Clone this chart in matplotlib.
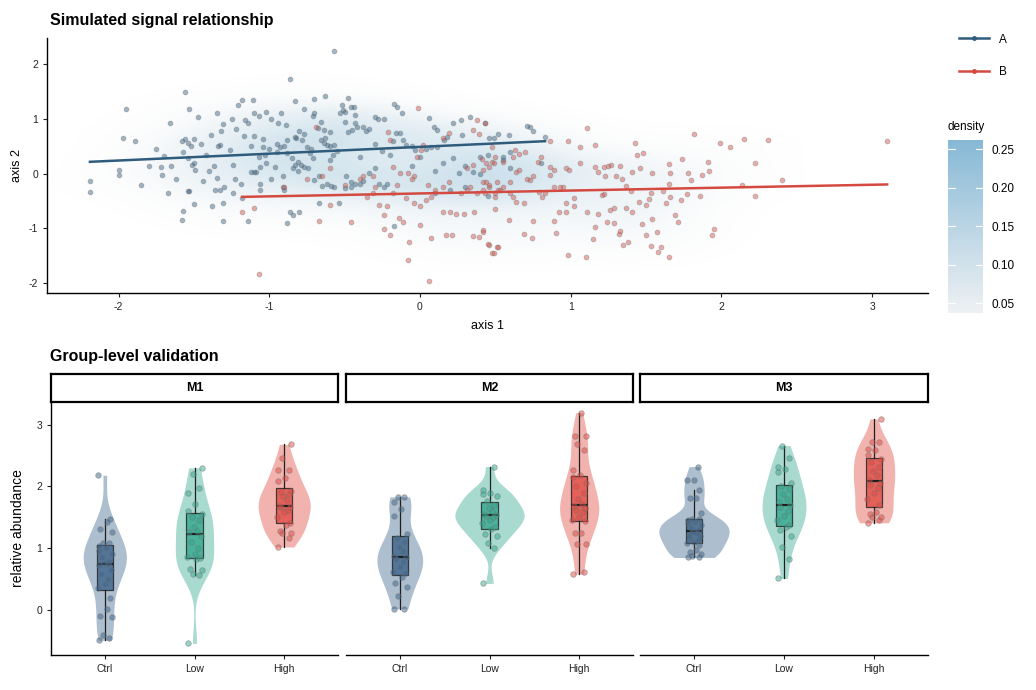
import numpy as np
import matplotlib
matplotlib.use("Agg")
import matplotlib.pyplot as plt
from matplotlib.colors import LinearSegmentedColormap, Normalize
from matplotlib.lines import Line2D
from matplotlib.cm import ScalarMappable

plt.rcParams["font.family"] = ["Liberation Sans", "DejaVu Sans"]
plt.rcParams["axes.unicode_minus"] = False

# ---------------- data: top scatter ----------------
a_x = [-2.19, -2.19, -1.95, -2.0, -2.0, -1.97, -1.89, -1.85, -1.72, -1.71, -1.70, -1.66, -1.65, -1.67,
       -1.56, -1.53, -1.47, -1.58, -1.56, -1.54, -1.57, -1.52, -1.50, -1.54, -1.51, -1.49, -1.50,
       -1.54, -1.53, -1.57, -1.58, -1.50, -1.44, -1.42, -1.39, -1.38, -1.35, -1.37, -1.35, -1.36,
       -1.31, -1.31, -1.33, -1.30, -1.34, -1.33, -1.31, -1.32, -1.25, -1.22, -1.21, -1.18, -1.11,
       -1.26, -1.24, -1.23, -1.24, -1.19, -1.16, -1.17, -1.14, -1.18, -1.14, -1.12, -1.10, -1.09,
       -1.07, -1.06, -1.10, -1.07, -1.12, -1.10, -1.06, -1.06, -1.02, -0.99, -1.04, -1.04, -1.03,
       -1.02, -0.99, -0.96, -0.95, -0.93, -0.94, -0.92, -0.89, -0.88, -0.91, -0.91, -0.90, -0.88,
       -0.86, -0.84, -0.80, -0.86, -0.83, -0.77, -0.85, -0.83, -0.81, -0.84, -0.81, -0.79, -0.77,
       -0.83, -0.82, -0.80, -0.77, -0.78, -0.75, -0.73, -0.71, -0.74, -0.70, -0.70, -0.70, -0.71,
       -0.63, -0.57, -0.67, -0.54, -0.68, -0.66, -0.64, -0.60, -0.64, -0.62, -0.60, -0.57, -0.66,
       -0.63, -0.67, -0.65, -0.62, -0.59, -0.57, -0.53, -0.51, -0.52, -0.50, -0.48, -0.46, -0.44,
       -0.43, -0.50, -0.48, -0.45, -0.43, -0.42, -0.38, -0.36, -0.34, -0.49, -0.46, -0.50, -0.46,
       -0.43, -0.40, -0.38, -0.34, -0.30, -0.27, -0.24, -0.22, -0.30, -0.28, -0.24, -0.17, -0.15,
       -0.12, -0.17, -0.18, -0.16, -0.13, -0.11, -0.09, -0.05, -0.03, 0.04, 0.07, 0.11, 0.16, 0.18,
       0.06, 0.09, 0.11, 0.22, 0.27, 0.28, 0.33, 0.43, 0.46, 0.49, 0.52, 0.59, 0.71, 0.73, 0.75,
       0.83, 0.22, 0.26, 0.35, 0.40, 0.45, 0.55, 0.60, 0.15, 0.00, -0.05, 0.30, 0.10, -0.58,
       -0.72, -0.88, -0.95, -0.40, -0.25, -0.60, -0.30, -0.20, -0.55, -0.90, -1.00,
       0.10, 0.40, 0.60, 0.80, 0.30, 0.55, 0.20, 0.45, -1.80, -1.75, -1.62, -1.45, -1.40]
a_y = [-0.13, -0.33, 1.18, 0.07, -0.03, 0.66, 0.59, -0.21, 0.13, -0.03, 0.32, 0.93, 0.15, -0.36,
       1.50, 1.18, 1.03, 0.60, 0.64, 0.56, 0.40, 0.50, 0.63, 0.28, 0.16, 0.07, 0.19,
       -0.31, -0.31, -0.68, -0.85, -0.55, -0.13, 0.34, 0.71, -0.60, 1.12, 0.14, -0.07, -0.30,
       -0.53, -0.86, -0.30, -0.24, 0.50, 0.53, 0.91, 0.79, 1.01, 0.82, 1.26, 1.35, 1.35,
       0.43, -0.36, -0.10, 0.16, -0.18, 0.98, 0.69, 0.92, -0.45, -0.87, 0.04, 0.03, 0.04,
       0.31, 0.13, 1.12, 1.06, 0.50, 0.69, -0.18, -0.30, 1.13, 1.01, 0.63, 0.48, 0.34,
       0.19, -0.10, 0.13, 0.40, 0.48, 0.92, 1.11, 0.89, 0.62, -0.05, -0.24, -0.30, -0.91,
       -0.70, -0.76, -0.70, 1.73, 1.34, 1.18, 0.28, 0.16, 0.22, 0.10, 0.05, 0.16, 0.13,
       0.68, 0.66, 0.79, 0.72, 0.62, 0.49, 0.38, 0.29, 0.10, -0.12, 1.37, 1.12, 1.06,
       1.42, 2.25, -0.54, -0.54, 0.83, 0.95, 0.80, 0.77, 0.56, 0.53, 0.50, 0.53, 0.62,
       0.65, -0.05, -0.22, -0.19, -0.22, -0.24, 1.11, 1.17, 1.26, 1.13, 1.38, 1.23, 1.22,
       1.08, 0.94, 0.77, 0.80, 0.93, 0.86, 0.86, 0.79, 0.82, -0.05, -0.15, -0.27, -0.24,
       -0.18, -0.19, -0.14, 0.01, 0.10, -0.18, -0.24, -0.19, 1.03, 1.00, 1.00, 1.28, 1.22,
       1.12, -0.95, 0.59, 0.74, 0.74, 0.62, 0.53, 0.50, 0.44, 0.46, 0.49, 0.49, 0.62, 0.68,
       1.02, 0.86, 0.80, 0.92, 0.98, 0.70, 1.03, 0.92, 0.66, 0.66, 0.73, 0.71, 0.87, 0.86, 0.79,
       0.68, 0.29, 0.02, 0.04, 0.30, 0.35, 0.25, 0.40, 0.20, 0.30, 0.15, -0.25, -0.35, 0.35,
       0.45, 0.38, 0.55, 0.30, 0.42, 0.25, 0.55, 0.35, 0.42, 0.50, 0.45,
       0.05, 0.00, 0.10, 0.20, 0.15, 0.30, -0.30, -0.40, 0.15, 0.45, -0.10, 0.55, 0.05]

b_x = [-1.18, -1.10, -1.07, -0.67, -0.60, -0.46, -0.65, -0.69, -0.01, -0.08, 0.06, -0.11, -0.14,
       -0.07, 0.00, 0.07, -0.24, -0.20, -0.27, -0.22, -0.24, -0.35, -0.31, -0.18, -0.09, -0.04,
       0.00, 0.04, 0.07, 0.10, 0.15, 0.19, 0.15, 0.20, 0.17, 0.21, 0.24, 0.29, 0.36, 0.35, 0.39,
       0.42, 0.46, 0.49, 0.51, 0.27, 0.31, 0.33, 0.38, 0.42, 0.46, 0.50, 0.52, 0.42, 0.51, 0.31,
       0.35, 0.42, 0.44, 0.48, 0.50, 0.48, 0.41, 0.35, 0.38, 0.39, 0.43, 0.19, 0.15, 0.01, 0.02,
       -0.02, -0.04, -0.08, -0.13, -0.18, -0.21, -0.20, -0.31, -0.38,
       3.10, 2.40, 2.31, 2.15, 1.99, 2.06, 1.82, 2.22, 2.22, 2.14, 1.95, 1.94, 1.91, 1.92, 1.87,
       1.86, 1.74, 1.78, 1.80, 1.77, 1.73, 1.71, 1.69, 1.65, 1.66, 1.65, 1.61, 1.66, 1.63, 1.65,
       1.60, 1.58, 1.53, 1.57, 1.50, 1.47, 1.54, 1.54, 1.46, 1.44, 1.48, 1.43, 1.53, 1.52, 1.45,
       1.50, 1.37, 1.40, 1.41, 1.37, 1.35, 1.38, 1.33, 1.32, 1.11, 1.16, 1.06, 1.06, 1.16, 1.18,
       1.22, 1.25, 1.27, 1.33, 1.41, 1.34, 1.30, 1.23, 1.21, 1.22, 1.26, 1.29, 1.24, 1.29, 1.16,
       1.15, 1.11, 1.18, 0.98, 1.10, 0.90, 0.74, 0.69, 0.52, 0.48, 0.45, 0.42, 0.89, 0.75, 0.59,
       0.50, 0.98, 0.86, 0.97, 0.99, 0.95, 0.93, 1.02, 0.97, 0.92, 0.97, 1.02, 0.89, 0.86, 0.83,
       0.81, 0.79, 0.75, 0.73, 0.71, 0.69, 0.64, 0.62, 0.60, 0.55, 0.53, 0.50, 0.46, 0.44, 0.43,
       0.63, 0.62, 0.70, 0.66, 0.80, 0.78, 0.86, 0.89, 0.49, 0.46, 0.55, 0.64, 0.66, 0.60,
       -0.90, -0.75, -0.50, -0.40, -0.30, -0.15, -0.05, 0.05, -0.60]
b_y = [-0.71, -0.62, -1.84, -0.87, -0.58, -0.88, -0.05, 0.86, 1.21, -1.58, -1.96, -0.88, -0.82,
       -1.26, -0.94, -1.18, -1.01, -1.12, -0.57, -0.59, -0.76, -0.42, -0.36, -0.36, -0.45, -0.54,
       -0.60, -0.48, -0.42, -0.30, -0.24, -0.15, -0.70, -0.70, -1.12, -1.12, -0.73, -0.73, -0.70,
       -1.14, -1.16, -1.04, -1.31, -1.45, -1.34, -0.36, -0.30, -0.24, -0.36, -0.30, -0.24, -0.42,
       -0.30, -0.15, -0.15, 0.10, 0.16, 0.07, 0.19, 0.22, 0.31, 0.49, 0.27, 0.80, 0.98, 0.73,
       0.92, 0.74, 0.65, 0.43, 0.53, 0.31, -0.05, 0.01, 0.01, 0.13, 0.77, 0.62, -0.05, -0.05,
       0.60, -0.11, 0.61, 0.64, 0.57, 0.48, 0.72, 0.19, -0.41, -0.20, -1.02, -1.12, 0.22, 0.05,
       -0.02, -0.40, 0.27, 0.02, -0.12, -0.38, -0.49, -0.89, -0.76, 0.17, 0.02, -0.18, -0.31,
       -0.43, -0.54, -1.52, -1.35, -1.43, -1.32, -1.06, -1.12, -0.92, -0.83, 0.02, 0.11, 0.35,
       0.37, 0.57, -0.36, -0.46, -0.51, -0.58, -0.23, -0.32, -0.70, -0.63, -1.31, -1.26, -1.05,
       -1.10, 0.84, 0.52, 0.49, 0.19, 0.12, 0.04, 0.13, 0.14, 0.16, 0.15, 0.04, -0.09, -0.05,
       -0.05, -0.39, -0.38, -0.67, -0.62, -0.88, -0.91, -0.98, -1.20, -0.70, -0.74, -1.49, -1.53,
       -1.09, -1.18, -1.10, -1.34, -1.45, -1.29, -1.06, -0.87, -0.87, -0.85, -0.65, 0.60, 0.59,
       0.10, 0.07, -0.24, -0.24, -0.60, -0.54, -0.70, -0.71, -0.44, -0.24, -0.02, -0.36, -0.42,
       -0.33, -0.05, -0.12, -0.09, -0.54, -0.51, -0.42, -0.36, -0.24, -0.30, -0.36, -0.21, -0.15,
       -0.36, 0.43, 0.31, 0.40, 0.36, 0.31, 0.22, 0.13, 0.07, 0.19, 0.13, 0.22, 0.04, 0.07, -0.15,
       -0.25, -0.10, -0.20, -0.10, -0.25, -0.20, -0.10, -0.20, 0.10]

groups = ["A", "B"]

# ---------------- data: group-level validation ----------------
modules = ["M1", "M2", "M3"]
levels = ["Ctrl", "Low", "High"]
m1_ctrl = [-0.49, -0.45, -0.40, -0.11, -0.10, 0.01, 0.20, 0.36, 0.42, 0.50, 0.58, 0.65, 0.72, 0.74,
           0.76, 0.80, 0.85, 0.90, 0.95, 1.00, 1.04, 1.08, 1.09, 1.27, 1.31, 1.43, 1.48, 2.18]
m1_low = [-0.54, 0.57, 0.58, 0.65, 0.66, 0.82, 0.84, 0.85, 0.90, 1.00, 1.10, 1.20, 1.27, 1.28,
          1.35, 1.45, 1.50, 1.56, 1.60, 1.71, 1.90, 1.97, 2.20, 2.30]
m1_high = [1.02, 1.17, 1.24, 1.24, 1.28, 1.38, 1.41, 1.50, 1.58, 1.62, 1.66, 1.66, 1.69, 1.78,
           1.85, 1.88, 1.91, 1.93, 2.08, 2.14, 2.27, 2.27, 2.46, 2.68]
m2_ctrl = [0.02, 0.02, 0.23, 0.37, 0.43, 0.53, 0.60, 0.62, 0.70, 0.78, 0.82, 0.85, 0.88, 0.95,
           1.02, 1.10, 1.16, 1.23, 1.52, 1.63, 1.75, 1.83, 1.83]
m2_low = [0.43, 1.00, 1.09, 1.20, 1.23, 1.31, 1.34, 1.40, 1.45, 1.50, 1.52, 1.54, 1.56, 1.60,
          1.65, 1.70, 1.77, 1.84, 1.88, 1.90, 1.94, 2.32]
m2_high = [0.58, 0.62, 1.07, 1.07, 1.24, 1.24, 1.44, 1.45, 1.50, 1.58, 1.62, 1.65, 1.68, 1.72,
           1.80, 1.90, 2.00, 2.05, 2.15, 2.18, 2.27, 2.59, 2.69, 2.82, 2.82, 3.19]
m3_ctrl = [0.85, 0.86, 0.87, 0.90, 0.94, 0.97, 1.05, 1.08, 1.10, 1.13, 1.16, 1.20, 1.22, 1.25,
           1.27, 1.30, 1.33, 1.37, 1.40, 1.43, 1.45, 1.47, 1.48, 1.57, 1.81, 1.81, 1.94, 2.10,
           2.11, 2.32]
m3_low = [0.51, 0.83, 1.02, 1.20, 1.30, 1.35, 1.38, 1.45, 1.52, 1.60, 1.66, 1.70, 1.75, 1.80,
          1.88, 1.95, 2.00, 2.05, 2.24, 2.28, 2.32, 2.46, 2.66]
m3_high = [1.41, 1.45, 1.51, 1.51, 1.56, 1.59, 1.70, 1.80, 1.90, 1.97, 2.02, 2.06, 2.10, 2.18,
           2.25, 2.32, 2.40, 2.44, 2.50, 2.59, 2.60, 2.72, 2.72, 3.09]
panel_data = [[m1_ctrl, m1_low, m1_high], [m2_ctrl, m2_low, m2_high], [m3_ctrl, m3_low, m3_high]]

# ---------------- styles ----------------
group_cols = {"A": "#2f5b7c", "B": "#d44a40"}
level_cols = ["#3c648c", "#33a88e", "#e24b42"]
jitter = np.array([-0.07, 0.05, -0.02, 0.08, -0.05, 0.02, 0.06, -0.08, 0.0, 0.04,
                   -0.04, 0.07, -0.06, 0.03, -0.01, 0.05, -0.03, 0.08, -0.07, 0.01])

W, H = 1036, 690
fig = plt.figure(figsize=(W / 100, H / 100), dpi=100)


def box(l, t, r, b):
    return [l / W, 1 - b / H, (r - l) / W, (b - t) / H]


# ======== top: scatter with density ========
ax = fig.add_axes(box(47, 38, 928, 293))
xlim = (-2.475, 3.371)
ylim = (-2.185, 2.485)

ax_all = np.array(a_x + b_x)
ay_all = np.array(a_y + b_y)
gx = np.linspace(*xlim, 300)
gy = np.linspace(*ylim, 200)
GX, GY = np.meshgrid(gx, gy)
hx, hy = 0.33, 0.27
dens = np.zeros_like(GX)
for px, py in zip(ax_all, ay_all):
    dens += np.exp(-0.5 * (((GX - px) / hx) ** 2 + ((GY - py) / hy) ** 2))
dens /= (2 * np.pi * hx * hy * len(ax_all))

cmap = LinearSegmentedColormap.from_list("dens", ["#eef1f3", "#86b8d5"])
norm = Normalize(vmin=0.037, vmax=0.262)
rgba = cmap(norm(dens))
rgba[..., 3] = 0.8 * np.clip((dens - 0.01) / 0.24, 0, 1) ** 0.75
ax.imshow(rgba, extent=(*xlim, *ylim), origin="lower", aspect="auto",
          interpolation="bilinear", zorder=0)

for g, xs, ys in [("A", a_x, a_y), ("B", b_x, b_y)]:
    ax.scatter(xs, ys, s=12, facecolor=group_cols[g], edgecolor="#777777",
               linewidth=0.6, alpha=0.45, zorder=2)
for g, xs, ys in [("A", a_x, a_y), ("B", b_x, b_y)]:
    xs = np.array(xs)
    ys = np.array(ys)
    k, c = np.polyfit(xs, ys, 1)
    lx = np.array([xs.min(), xs.max()])
    ax.plot(lx, k * lx + c, color=group_cols[g], lw=1.8, zorder=3)

ax.set_xlim(*xlim)
ax.set_ylim(*ylim)
ax.set_xticks([-2, -1, 0, 1, 2, 3])
ax.set_yticks([-2, -1, 0, 1, 2])
for s in ["top", "right"]:
    ax.spines[s].set_visible(False)
for s in ["left", "bottom"]:
    ax.spines[s].set_linewidth(1.0)
ax.tick_params(labelsize=7.5, length=3, width=0.8, colors="#222222")
ax.set_xlabel("axis 1", fontsize=9, labelpad=6)
ax.set_ylabel("axis 2", fontsize=9, labelpad=4)
fig.text(50 / W, 1 - 21 / H, "Simulated signal relationship", fontsize=11.5,
         fontweight="bold", va="center", ha="left")

handles = [Line2D([0], [0], color=group_cols[g], lw=1.8, marker="o", markersize=2.5)
           for g in groups]
fig.legend(handles, groups, loc="upper left", bbox_to_anchor=(948 / W, 1 - 23 / H),
           frameon=False, fontsize=8.5, handlelength=2.6, labelspacing=1.7,
           handletextpad=0.8)

cax = fig.add_axes(box(948, 140, 983, 313))
cb = fig.colorbar(ScalarMappable(norm=norm, cmap=cmap), cax=cax)
cb.outline.set_visible(False)
cb.set_ticks([0.05, 0.10, 0.15, 0.20, 0.25])
cb.set_ticklabels(["0.05", "0.10", "0.15", "0.20", "0.25"])
cax.tick_params(length=0, labelsize=8.5, pad=6)
for v in [0.05, 0.10, 0.15, 0.20, 0.25]:
    cax.axhline(v, xmin=0, xmax=0.2, color="white", lw=0.8)
    cax.axhline(v, xmin=0.8, xmax=1, color="white", lw=0.8)
fig.text(948 / W, 1 - 127 / H, "density", fontsize=8.5, va="center", ha="left")

# ======== bottom: faceted violins ========
fig.text(50 / W, 1 - 356 / H, "Group-level validation", fontsize=11.5,
         fontweight="bold", va="center", ha="left")

panel_px = [(51, 338), (346, 633), (640, 928)]
ylim_b = (-0.728, 3.37)


# violins share one area scaling
def kde1d(v, grid):
    v = np.asarray(v)
    iqr = np.subtract(*np.percentile(v, [75, 25]))
    bw = 0.9 * min(v.std(ddof=1), iqr / 1.34) * len(v) ** -0.2
    d = np.exp(-0.5 * ((grid[:, None] - v[None, :]) / bw) ** 2).sum(1)
    return d / (len(v) * bw * np.sqrt(2 * np.pi))


curves = []
for pdata in panel_data:
    row = []
    for v in pdata:
        grid = np.linspace(min(v), max(v), 200)
        row.append((grid, kde1d(v, grid)))
    curves.append(row)
dmax = max(d.max() for row in curves for _, d in row)

for i, (l, r) in enumerate(panel_px):
    axp = fig.add_axes(box(l, 401.7, r, 655))
    for j, v in enumerate(panel_data[i]):
        pos = j + 1
        grid, d = curves[i][j]
        hw = d / dmax * 0.39
        axp.fill_betweenx(grid, pos - hw, pos + hw, color=level_cols[j], alpha=0.42,
                          lw=0, zorder=1)
        bp = axp.boxplot([v], positions=[pos], widths=0.18, patch_artist=True,
                         showfliers=False, showcaps=False, whis=1.5, zorder=2)
        for p in bp["boxes"]:
            p.set_facecolor(level_cols[j])
            p.set_alpha(0.8)
            p.set_edgecolor("#1e1e1e")
            p.set_linewidth(0.9)
        for w in bp["whiskers"]:
            w.set_color("#1e1e1e")
            w.set_linewidth(0.9)
        for m in bp["medians"]:
            m.set_color("#1e1e1e")
            m.set_linewidth(1.6)
        jx = pos + np.resize(jitter, len(v))
        axp.scatter(jx, v, s=16, facecolor=level_cols[j], edgecolor="#6f6f6f",
                    linewidth=0.6, alpha=0.5, zorder=3)
    axp.set_xlim(0.4, 3.6)
    axp.set_ylim(*ylim_b)
    axp.set_xticks([1, 2, 3])
    axp.set_xticklabels(levels)
    axp.spines["top"].set_visible(False)
    axp.spines["right"].set_visible(False)
    axp.spines["bottom"].set_linewidth(1.0)
    axp.tick_params(labelsize=7.5, length=3, width=0.8, colors="#222222")
    if i == 0:
        axp.set_yticks([0, 1, 2, 3])
        axp.spines["left"].set_linewidth(1.0)
        axp.set_ylabel("relative abundance", fontsize=10, labelpad=8)
    else:
        axp.spines["left"].set_visible(False)
        axp.set_yticks([])

    sax = fig.add_axes(box(l, 373.5, r, 401.7))
    sax.set_xticks([])
    sax.set_yticks([])
    for s in sax.spines.values():
        s.set_linewidth(1.6)
        s.set_color("black")
    sax.text(0.5, 0.5, modules[i], transform=sax.transAxes, ha="center", va="center",
             fontsize=9, fontweight="bold")

fig.savefig("out.png", dpi=100)
